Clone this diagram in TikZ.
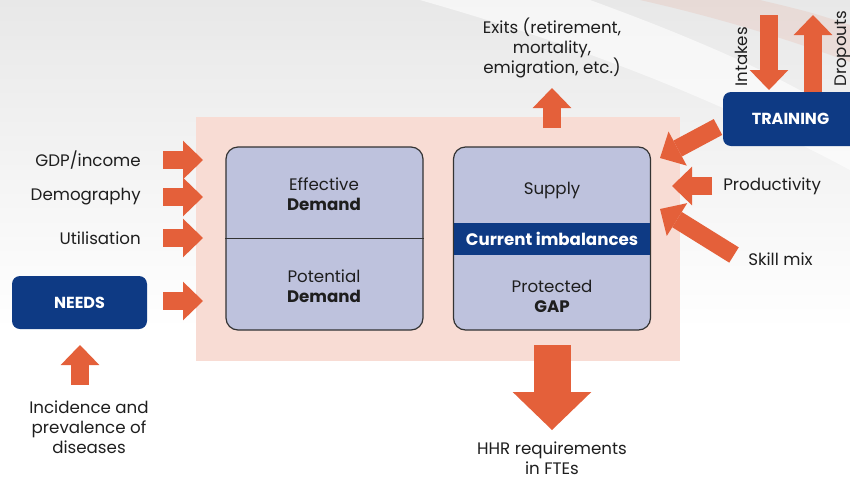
\documentclass[tikz,border=0pt]{standalone}
\usepackage{fontspec}
\setmainfont{Poppins}
\usetikzlibrary{arrows.meta}

\definecolor{hhrorange}{RGB}{228,96,58}
\definecolor{hhrblue}{RGB}{14,58,132}
\definecolor{hhrlav}{RGB}{190,194,221}
\definecolor{hhrpink}{RGB}{248,220,212}
\definecolor{hhrtext}{RGB}{30,30,30}

\tikzset{
  label/.style={inner sep=0.75pt, text=hhrtext, font=\fontsize{12.5}{15}\selectfont, align=center},
  panel/.style={draw=black!80, line width=0.9pt, fill=hhrlav, rounded corners=9pt},
  bluebox/.style={fill=hhrblue, rounded corners=6pt, text=white, font=\fontsize{12}{14}\selectfont\bfseries},
  fatarrow/.style={draw=hhrorange, line width=13.5pt, -{Triangle[width=29pt,length=15pt,line width=0pt]}},
  bigarrow/.style={draw=hhrorange, line width=27.75pt, -{Triangle[width=59pt,length=28.5pt,line width=0pt]}}
}

\begin{document}
\begin{tikzpicture}[x=0.75pt,y=0.75pt,yscale=-1,xscale=1]
\path[use as bounding box] (0,0) rectangle (850,479);
\clip (0,0) rectangle (850,479);

% Background
\fill[top color=black!9, bottom color=white] (0,0) rectangle (850,330);
\fill[white, opacity=0.6] (420,0) -- (590,0) .. controls (700,40) and (790,80) .. (850,120) -- (850,170) .. controls (700,90) and (560,40) .. cycle;
\fill[hhrorange, opacity=0.10] (640,0) .. controls (720,18) and (790,40) .. (850,62) -- (850,25) .. controls (810,12) .. (760,0) -- cycle;
\fill[hhrpink] (196,117) rectangle (680,361);

% Demand panel
\node (demandbox) [panel, minimum width=147.75pt, minimum height=137.25pt] at (324.5,238.5) {};
\draw[black!80, line width=0.9pt] (demandbox.west) -- (demandbox.east);
\node (effective) [label] at (324,194) {Effective\\\textbf{Demand}};
\node (potential) [label] at (324,286) {Potential\\\textbf{Demand}};

% Supply panel
\node (supplybox) [panel, minimum width=147.75pt, minimum height=137.25pt] at (552,238.5) {};
\node (supply) [label] at (552,190) {Supply};
\node (imbalance) [fill=hhrblue, text=white, minimum width=147pt, minimum height=24pt, inner sep=0pt, font=\fontsize{12.5}{15}\selectfont\bfseries] at (552,239) {Current imbalances};
\node (gap) [label] at (552,296) {Protected\\\textbf{GAP}};

% Blue boxes
\node (needs) [bluebox, minimum width=101.25pt, minimum height=39.75pt] at (79.5,302.5) {NEEDS};
\node (training) [bluebox, minimum width=101.25pt, minimum height=40.5pt] at (790.5,119) {TRAINING};

% Text Node
\node (gdp) [label, anchor=east] at (142,160) {GDP/income};
\node (demo) [label, anchor=east] at (142,197) {Demography};
\node (util) [label, anchor=east] at (142,238) {Utilisation};
\node (disease) [label] at (89,427) {Incidence and\\prevalence of\\diseases};
\node (exits) [label] at (552,48) {Exits (retirement,\\mortality,\\emigration, etc.)};
\node (hhr) [label] at (552,458) {HHR requirements\\in FTEs};
\node (prod) [label, anchor=west] at (722,186) {Productivity};
\node (skill) [label, anchor=west] at (747,259) {Skill mix};
\node (intakes) [label, rotate=90, anchor=base west] at (747,88) {Intakes};
\node (dropouts) [label, rotate=90, anchor=base west] at (846,88) {Dropouts};

% Connection
\coordinate (gdpA) at (163,160);  \coordinate (gdpB) at (203,160);
\coordinate (demoA) at (163,197); \coordinate (demoB) at (203,197);
\coordinate (utilA) at (163,238); \coordinate (utilB) at (203,238);
\coordinate (needA) at (163,301); \coordinate (needB) at (203,301);
\draw[fatarrow] (gdpA) -- (gdpB);
\draw[fatarrow] (demoA) -- (demoB);
\draw[fatarrow] (utilA) -- (utilB);
\draw[fatarrow] (needA) -- (needB);
% Connection
\coordinate (disA) at (80,385); \coordinate (disB) at (80,345);
\draw[fatarrow] (disA) -- (disB);
% Connection
\coordinate (exitA) at (552,128); \coordinate (exitB) at (552,88);
\draw[fatarrow] (exitA) -- (exitB);
% Connection
\coordinate (hhrA) at (552,345); \coordinate (hhrB) at (552,430);
\draw[bigarrow] (hhrA) -- (hhrB);
% Connection
\coordinate (intA) at (769,15); \coordinate (intB) at (769,90);
\coordinate (dropA) at (813,92); \coordinate (dropB) at (813,15);
\draw[fatarrow] (intA) -- (intB);
\draw[fatarrow] (dropA) -- (dropB);
% Connection
\coordinate (trainA) at (718,127); \coordinate (trainB) at (660,158);
\coordinate (prodA) at (712,186); \coordinate (prodB) at (672,186);
\coordinate (skillA) at (734,255); \coordinate (skillB) at (660,209);
\draw[fatarrow] (trainA) -- (trainB);
\draw[fatarrow] (prodA) -- (prodB);
\draw[fatarrow] (skillA) -- (skillB);

\end{tikzpicture}
\end{document}
